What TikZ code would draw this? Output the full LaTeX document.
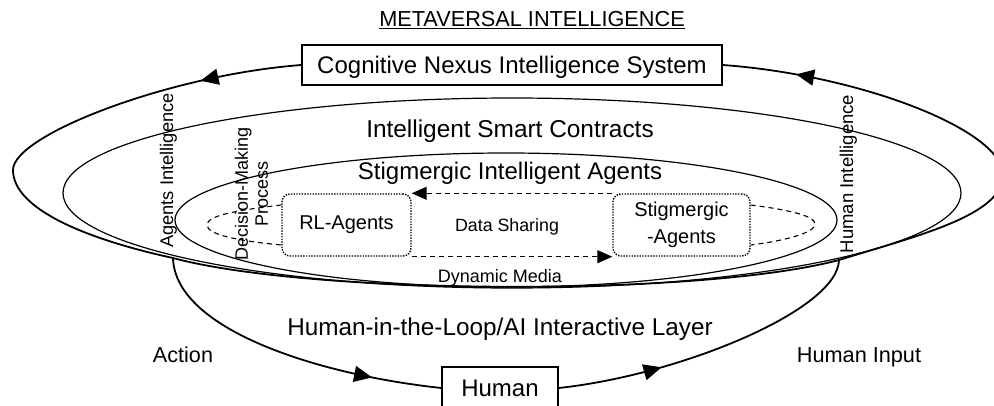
\documentclass[tikz,border=0pt]{standalone}
\usepackage{fontspec}
\setmainfont{Liberation Sans}
\usetikzlibrary{arrows.meta,decorations.markings}
\tikzset{
  loopline/.style={line width=1.8pt},
  ring/.style={line width=1.2pt},
  dashline/.style={dash pattern=on 5pt off 4pt, line width=1.1pt},
  solidbox/.style={draw, line width=1.5pt, fill=white, inner sep=0pt, text depth=0pt},
  agentbox/.style={draw, dash pattern=on 1.4pt off 1.3pt, line width=1.4pt, rounded corners=8pt, inner sep=0pt, align=center},
  bigarrow/.style={postaction={decorate,decoration={markings,mark=at position #1 with {\arrow{Triangle[length=18pt,width=16pt]}}}}},
  smalltip/.style={-{Triangle[length=15pt,width=13pt]}},
  lbl/.style={inner sep=0pt},
}
\begin{document}
\begin{tikzpicture}[x=1pt,y=-1pt]
\useasboundingbox (0,0) rectangle (994,406);
% nested rings
\draw[ring] (512,193) ellipse [x radius=449, y radius=95];
\draw[ring] (506,220) ellipse [x radius=331, y radius=67];
% boxes
\node[solidbox, minimum width=420pt, minimum height=40pt, font={\fontsize{24}{28}\selectfont}] (cnis) at (512,65) {Cognitive Nexus Intelligence System};
\node[solidbox, minimum width=116pt, minimum height=42pt, font={\fontsize{24}{28}\selectfont}] (human) at (500,388) {Human};
\node[agentbox, minimum width=129pt, minimum height=62pt, font={\fontsize{20}{27}\selectfont}] (rl) at (346.5,225) {RL-Agents};
\node[agentbox, minimum width=137pt, minimum height=62pt, font={\fontsize{20}{27}\selectfont}] (stig) at (681.5,225) {Stigmergic\\-Agents};
% loop coordinates
\coordinate (jl) at (173,258);
\coordinate (jr) at (839,260);
\coordinate (lft) at (13,170);
\coordinate (rgt) at (1003,175);
% outer loop
\draw[loopline, bigarrow=102pt] (cnis.west) .. controls (170,75) and (13,135) .. (lft) .. controls (13,210) and (90,240) .. (jl);
\draw[loopline] (jl) .. controls (310,295) and (700,297) .. (jr);
\draw[loopline, bigarrow=-74pt] (jr) .. controls (920,235) and (1003,215) .. (rgt) .. controls (1003,130) and (860,75) .. (cnis.east);
\draw[loopline, bigarrow=-70pt] (jl) .. controls (175,330) and (320,375) .. (human.west);
\draw[loopline, bigarrow=105pt] (human.east) .. controls (680,375) and (838,310) .. (jr);
% dashed data loop
\coordinate (dl) at (207,225);
\coordinate (dr) at (815,224);
\draw[dashline, smalltip] (stig.north west) -- (rl.north east);
\draw[dashline, smalltip] (rl.south east) -- (stig.south west);
\draw[dashline] ([yshift=20pt]rl.west) .. controls (240,210) and (207,215) .. (dl) .. controls (207,235) and (240,241) .. ([yshift=-20pt]rl.west);
\draw[dashline] ([yshift=20pt]stig.east) .. controls (790,210) and (815,216) .. (dr) .. controls (815,232) and (790,240) .. ([yshift=-20pt]stig.east);
% labels
\node[lbl, anchor=base, font={\fontsize{21.7}{26}\selectfont}] (title) at (532,27) {\underline{METAVERSAL INTELLIGENCE}};
\node[lbl, anchor=base, font={\fontsize{24.4}{29}\selectfont}] (isc) at (510,138) {Intelligent Smart Contracts};
\node[lbl, anchor=base, font={\fontsize{24}{29}\selectfont}] (sia) at (510,180) {Stigmergic Intelligent Agents};
\node[lbl, anchor=base, font={\fontsize{24.3}{29}\selectfont}] (hitl) at (500,335) {Human-in-the-Loop/AI Interactive Layer};
\node[lbl, anchor=base, font={\fontsize{18}{22}\selectfont}] (dm) at (500,283) {Dynamic Media};
\node[lbl, anchor=base, font={\fontsize{17.8}{22}\selectfont}] (ds) at (507,232) {Data Sharing};
\node[lbl, anchor=base, font={\fontsize{21.6}{26}\selectfont}] (act) at (183,362) {Action};
\node[lbl, anchor=base, font={\fontsize{21.7}{26}\selectfont}] (hin) at (859,362) {Human Input};
\node[lbl, anchor=base, rotate=90, font={\fontsize{18.3}{22}\selectfont}] (ai) at (173,170.5) {Agents Intelligence};
\node[lbl, anchor=base, rotate=90, font={\fontsize{18.5}{22}\selectfont}] (hi) at (853,174) {Human Intelligence};
\node[lbl, rotate=90, align=center, font={\fontsize{18}{20}\selectfont}] (dmp) at (251.5,194) {Decision-Making\\Process};
\end{tikzpicture}
\end{document}
